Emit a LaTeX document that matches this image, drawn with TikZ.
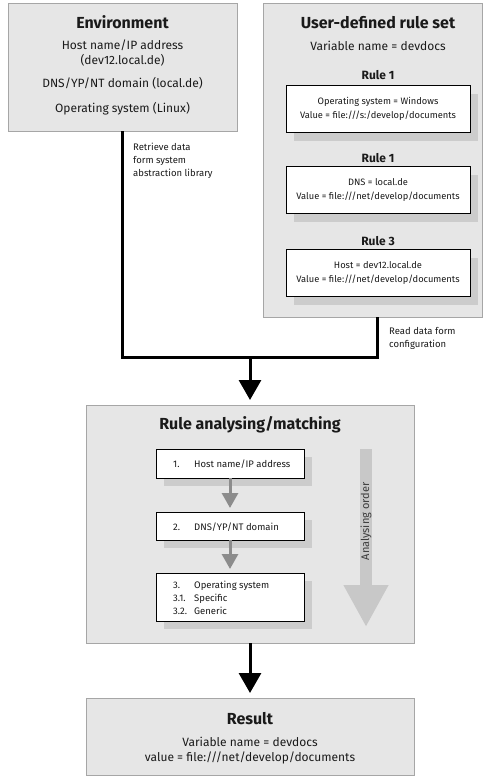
\documentclass[tikz,border=0pt]{standalone}
\usepackage{fontspec}
\setmainfont{Fira Sans}
\usetikzlibrary{arrows.meta,shadows}
\definecolor{boxfill}{HTML}{E6E6E6}
\definecolor{boxline}{HTML}{A6A6A6}
\definecolor{shadowc}{HTML}{CCCCCC}
\definecolor{arrowc}{HTML}{8C8C8C}
\definecolor{orderc}{HTML}{C8C8C8}
\definecolor{txt}{HTML}{1A1A1A}
\definecolor{ordertxt}{HTML}{3C3C3C}
\begin{document}
\begin{tikzpicture}[x=1pt,y=-1pt,
  every node/.style={text=txt},
  panel/.style={draw=boxline, line width=0.9pt, fill=boxfill, inner sep=0pt, outer sep=0pt},
  shadowed/.style={drop shadow={shadow xshift=8pt, shadow yshift=-8pt, fill=shadowc, opacity=1, draw=none}},
  rulebox/.style={shadowed, draw=black, line width=0.8pt, fill=white, inner sep=0pt, outer sep=0pt,
    minimum width=184pt, minimum height=47pt, align=center, font=\fontsize{9.3}{13.5}\selectfont},
  stepbox/.style={shadowed, draw=black, line width=0.8pt, fill=white, inner sep=0pt, outer sep=0pt, minimum width=148pt},
  steptext/.style={anchor=base west, inner sep=0pt, font=\fontsize{9.5}{13}\selectfont},
  title/.style={font=\fontsize{16}{19}\selectfont\bfseries, anchor=base, inner sep=0pt},
  body/.style={font=\fontsize{12}{15}\selectfont, anchor=base, inner sep=0pt},
  subtitle/.style={font=\fontsize{12}{15}\selectfont\bfseries, anchor=base, inner sep=0pt},
  note/.style={font=\fontsize{9.5}{12.8}\selectfont, anchor=north west, inner sep=0pt, align=left},
  conn/.style={line width=3pt, draw=black},
  bigarrow/.style={conn, -{Triangle[width=22pt,length=20pt]}, shorten >=5pt},
  grayarrow/.style={line width=3pt, draw=arrowc, -{Triangle[width=16pt,length=15pt]}, shorten >=4pt},
]
\useasboundingbox (0,0) rectangle (483,776);

% Environment
\node[panel, minimum width=229pt, minimum height=128pt] (env) at (122.5,67) {};
\node[title] (envtitle) at (122.5,29) {Environment};
\node[body] (envhost) at (122.5,50) {Host name/IP address};
\node[body] (envhost2) at (122.5,64) {(dev12.local.de)};
\node[body] (envdns) at (122.5,87) {DNS/YP/NT domain (local.de)};
\node[body] (envos) at (122.5,112) {Operating system (Linux)};

% User-defined rule set
\node[panel, minimum width=219pt, minimum height=314pt] (rs) at (372.5,160) {};
\node[title] (rstitle) at (378,29) {User-defined rule set};
\node[body] (rsvar) at (378,51) {Variable name = devdocs};
\node[subtitle] (rh1) at (378,80) {Rule 1};
\node[rulebox] (r1) at (378,109) {Operating system = Windows\\Value = file:///s:/develop/documents};
\node[subtitle] (rh2) at (378,162) {Rule 1};
\node[rulebox] (r2) at (378,190) {DNS = local.de\\Value = file:///net/develop/documents};
\node[subtitle] (rh3) at (378,245) {Rule 3};
\node[rulebox] (r3) at (378,273) {Host = dev12.local.de\\Value = file:///net/develop/documents};

% Rule analysing / matching
\node[panel, minimum width=328pt, minimum height=238pt] (ana) at (250,524) {};
\node[title] (anatitle) at (250,429) {Rule analysing/matching};
\node[stepbox, minimum height=29pt] (s1) at (230,463.5) {};
\node[stepbox, minimum height=28pt] (s2) at (230,526) {};
\node[stepbox, minimum height=48pt] (s3) at (230,597) {};
\draw[grayarrow] (s1.south) -- (s2.north);
\draw[grayarrow] (s2.south) -- (s3.north);
\node[steptext] (t1) at (173,467.5) {\makebox[21pt][l]{1.}Host name/IP address};
\node[steptext] (t2) at (173,530) {\makebox[21pt][l]{2.}DNS/YP/NT domain};
\node[steptext] (t3) at (173,588) {\makebox[21pt][l]{3.}Operating system};
\node[steptext] (t31) at (173,601) {\makebox[21pt][l]{3.1.}Specific};
\node[steptext] (t32) at (173,614) {\makebox[21pt][l]{3.2.}Generic};
\coordinate (ordtop) at (366,449);
\coordinate (ordtip) at (366,627);
\draw[line width=12pt, draw=orderc, -{Triangle[width=42pt,length=42pt]}] (ordtop) -- (ordtip);
\node[rotate=90, inner sep=0pt, font=\fontsize{11}{13}\selectfont, text=ordertxt] (ordlbl) at (366,521.5) {Analysing order};

% Result
\node[panel, minimum width=328pt, minimum height=77pt] (res) at (250,736.5) {};
\node[title] (restitle) at (250,724) {Result};
\node[body] (resvar) at (250,746) {Variable name = devdocs};
\node[body] (resval) at (250,761) {value = file:///net/develop/documents};

% Connectors
\coordinate (j) at (250,357);
\draw[conn] (env.south) |- (j) -| ([xshift=4.5pt]rs.south);
\draw[bigarrow] (j) -- (ana.north);
\draw[bigarrow] (ana.south) -- (res.north);
\node[note] (lbl1) at (133,143) {Retrieve data\\form system\\abstraction library};
\node[note] (lbl2) at (389,327) {Read data form\\configuration};
\end{tikzpicture}
\end{document}
